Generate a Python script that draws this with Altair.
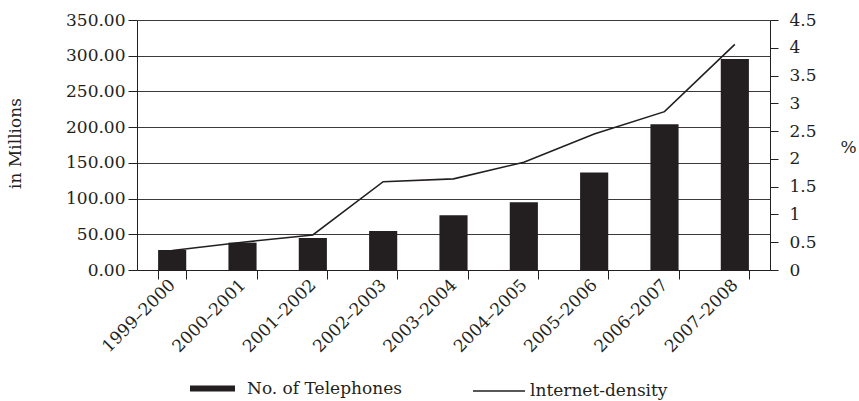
import altair as alt
import pandas as pd

# Fiscal years on the category axis
years = ["1999–2000", "2000–2001", "2001–2002", "2002–2003", "2003–2004",
         "2004–2005", "2005–2006", "2006–2007", "2007–2008"]
# Telephone connections, in millions (left axis)
telephones = [28.0, 38.3, 44.8, 54.6, 76.6, 94.8, 136.4, 204.2, 295.4]
# Internet density, in percent (right axis)
internet_density = [0.35, 0.50, 0.63, 1.59, 1.64, 1.94, 2.45, 2.85, 4.06]

left_ticks = [0, 50, 100, 150, 200, 250, 300, 350]
right_ticks = [0, 0.5, 1, 1.5, 2, 2.5, 3, 3.5, 4, 4.5]

bar_label = "No. of Telephones"
line_label = "lnternet-density"

df = pd.DataFrame({
    "year": years,
    "phones": telephones,
    "density": internet_density,
    "bar_series": bar_label,
    "line_series": line_label,
})

FONT = "DejaVu Serif"
INK = "#231f20"
GRID = "#3a3a3a"

x_enc = alt.X(
    "year:N",
    sort=years,
    title=None,
    scale=alt.Scale(paddingInner=0.6, paddingOuter=0.3),
    axis=alt.Axis(
        labelAngle=-45,
        labelAlign="right",
        labelBaseline="middle",
        labelPadding=3,
        tickBand="extent",
        tickSize=9,
        grid=False,
    ),
)

bars = alt.Chart(df).mark_bar(color=INK).encode(
    x=x_enc,
    y=alt.Y(
        "phones:Q",
        scale=alt.Scale(domain=[0, 350], nice=False, zero=True),
        axis=alt.Axis(
            values=left_ticks,
            format=".2f",
            title="in Millions",
            titleAngle=-90,
            titleX=-122,
            titleY=123,
            titleAlign="center",
            titleBaseline="middle",
            grid=True,
            gridColor=GRID,
            gridWidth=1,
            tickSize=9,
            labelPadding=3,
        ),
    ),
    fill=alt.Fill(
        "bar_series:N",
        scale=alt.Scale(domain=[bar_label], range=[INK]),
        legend=alt.Legend(
            title=None,
            orient="none",
            legendX=53,
            legendY=346,
            symbolType="M-1,-0.13H1V0.13H-1Z",
            symbolSize=2025,
            symbolStrokeWidth=0,
            labelOffset=12,
        ),
    ),
)

line = alt.Chart(df).mark_line(color=INK, strokeWidth=1.6).encode(
    x=x_enc,
    y=alt.Y(
        "density:Q",
        scale=alt.Scale(domain=[0, 4.5], nice=False, zero=True),
        axis=alt.Axis(
            orient="right",
            values=right_ticks,
            format="~g",
            title="%",
            titleAngle=0,
            titleX=78,
            titleY=127,
            titleAlign="center",
            titleBaseline="middle",
            grid=False,
            tickSize=8,
            labelPadding=11,
        ),
    ),
    stroke=alt.Stroke(
        "line_series:N",
        scale=alt.Scale(domain=[line_label], range=[INK]),
        legend=alt.Legend(
            title=None,
            orient="none",
            legendX=335,
            legendY=344,
            symbolType="stroke",
            symbolSize=2704,
            symbolStrokeWidth=1.5,
            labelOffset=4,
        ),
    ),
)

chart = (
    alt.layer(bars, line)
    .resolve_scale(y="independent", fill="independent", stroke="independent")
    .properties(
        width=633,
        height=250,
        autosize=alt.AutoSizeParams(type="none"),
        padding={"left": 137, "top": 20, "right": 89, "bottom": 131},
        background="white",
    )
    .configure_view(stroke=None)
    .configure_axis(
        labelFont=FONT,
        labelFontSize=17,
        labelColor=INK,
        titleFont=FONT,
        titleFontSize=17,
        titleFontWeight="normal",
        titleColor=INK,
        domainColor=INK,
        domainWidth=1,
        tickColor=INK,
        tickWidth=1,
    )
    .configure_legend(
        labelFont=FONT,
        labelFontSize=17,
        labelColor=INK,
        labelLimit=300,
    )
)

chart.save("out.html", embed_options={"renderer": "svg", "actions": False})
